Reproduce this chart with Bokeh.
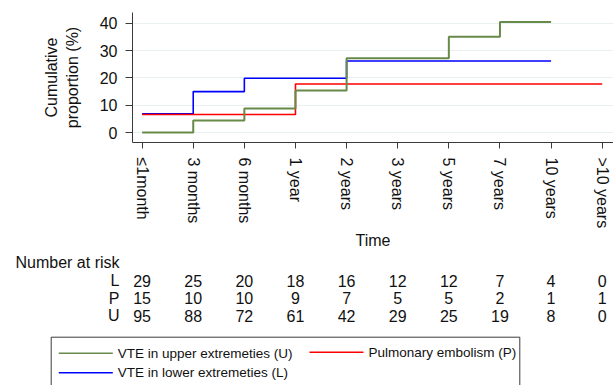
import math
from bokeh.plotting import figure
from bokeh.layouts import column
from bokeh.models import Range1d, FixedTicker
from bokeh.core.properties import value
from bokeh.embed import file_html
from bokeh.resources import INLINE

# ---- data ----
time_labels = ["\u22641month", "3 months", "6 months", "1 year", "2 years",
               "3 years", "5 years", "7 years", "10 years", ">10 years"]
x_idx_U = [0, 1, 2, 3, 4, 5, 6, 7, 8]
cum_U = [0.0, 4.4, 8.8, 15.4, 27.2, 27.2, 35.1, 40.5, 40.5]
x_idx_L = [0, 1, 2, 3, 4, 5, 6, 7, 8]
cum_L = [6.9, 15.0, 19.9, 19.9, 26.2, 26.2, 26.2, 26.2, 26.2]
x_idx_P = [0, 1, 2, 3, 4, 5, 6, 7, 8, 9]
cum_P = [6.6, 6.6, 6.6, 17.8, 17.8, 17.8, 17.8, 17.8, 17.8, 17.8]
y_ticks = [0, 10, 20, 30, 40]

risk_groups = ["L", "P", "U"]
risk_L = [29, 25, 20, 18, 16, 12, 12, 7, 4, 0]
risk_P = [15, 10, 10, 9, 7, 5, 5, 2, 1, 1]
risk_U = [95, 88, 72, 61, 42, 29, 25, 19, 8, 0]

legend_labels = ["VTE in upper extremeties (U)", "Pulmonary embolism (P)",
                 "VTE in lower extremeties (L)"]

COL_U = "#678A48"
COL_L = "#0000FF"
COL_P = "#FF0000"
FONT = "Liberation Sans"
AX = "#3a3a3a"

# ---- main chart ----
W = 613
H1 = 252
p = figure(width=W, height=H1, x_range=Range1d(-0.188, 9.221),
           y_range=Range1d(-3.66, 44.0), output_backend="svg",
           toolbar_location=None, min_border_left=132, min_border_right=0,
           min_border_top=12, min_border_bottom=H1 - 143)
p.frame_align = False
p.outline_line_color = None
p.xgrid.visible = False
p.ygrid.grid_line_color = "#E9F0F1"
p.ygrid.grid_line_width = 1.2

p.step(x_idx_L, cum_L, mode="after", line_color=COL_L, line_width=1.6)
p.step(x_idx_P, cum_P, mode="after", line_color=COL_P, line_width=1.6)
p.step(x_idx_U, cum_U, mode="after", line_color=COL_U, line_width=2)

p.yaxis.ticker = FixedTicker(ticks=y_ticks)
p.yaxis.minor_tick_line_color = None
p.yaxis.major_tick_out = 7
p.yaxis.major_tick_in = 0
p.yaxis.major_label_standoff = 8
p.yaxis.axis_label = "Cumulative\nproportion (%)"
p.yaxis.axis_label_standoff = 16
p.yaxis.axis_label_text_font_style = "normal"

p.xaxis.ticker = FixedTicker(ticks=list(range(len(time_labels))))
p.xaxis.major_label_overrides = {i: t for i, t in enumerate(time_labels)}
p.xaxis.major_label_orientation = -math.pi / 2
p.xaxis.minor_tick_line_color = None
p.xaxis.major_tick_out = 6
p.xaxis.major_tick_in = 0
p.xaxis.major_label_standoff = 9
p.xaxis.axis_label = "Time"
p.xaxis.axis_label_standoff = 1
p.xaxis.axis_label_text_font_style = "normal"

for ax in (p.xaxis, p.yaxis):
    ax.axis_line_color = AX
    ax.major_tick_line_color = AX
    ax.major_label_text_font = FONT
    ax.major_label_text_font_size = "16px"
    ax.major_label_text_color = "#111111"
    ax.axis_label_text_font = FONT
    ax.axis_label_text_font_size = "16px"
    ax.axis_label_text_color = "#111111"

# ---- number at risk + legend ----
H2 = 385 - H1
x0px, dx = 141.6, 51.12


def px2x(px):
    return (px - x0px) / dx


q = figure(width=W, height=H2, x_range=Range1d(px2x(0), px2x(W)),
           y_range=Range1d(385, H1), output_backend="svg",
           toolbar_location=None, min_border=0, min_border_left=0,
           min_border_right=0, min_border_top=0, min_border_bottom=0,
           x_axis_location=None, y_axis_location=None)
q.frame_align = False
q.outline_line_color = None
q.grid.visible = False

tf = value(FONT)
q.text(x=[px2x(15)], y=[262], text=["Number at risk"], text_font=tf,
       text_font_size="16px", text_align="left", text_baseline="middle",
       text_color="#111111")
row_y = [280, 297.7, 315]
for g, vals, ry in zip(risk_groups, [risk_L, risk_P, risk_U], row_y):
    q.text(x=[px2x(119)], y=[ry], text=[g], text_font=tf,
           text_font_size="16px", text_align="right", text_baseline="middle",
           text_color="#111111")
    q.text(x=list(range(len(vals))), y=[ry] * len(vals),
           text=[str(v) for v in vals], text_font=tf, text_font_size="16px",
           text_align="center", text_baseline="middle", text_color="#111111")

q.quad(left=[px2x(50.7)], right=[px2x(519.3)], top=[336.7], bottom=[392],
       fill_color=None, line_color=AX, line_width=1)
leg_cols = [COL_U, COL_P, COL_L]
leg_x0 = [58.3, 309, 58.3]
leg_y = [352.7, 351.7, 372.3]
for lab, c, lx, ly in zip(legend_labels, leg_cols, leg_x0, leg_y):
    q.segment(x0=[px2x(lx)], y0=[ly], x1=[px2x(lx + 54)], y1=[ly],
              line_color=c, line_width=1.6)
    q.text(x=[px2x(lx + 59)], y=[ly], text=[lab], text_font=tf,
           text_font_size="13.5px", text_align="left", text_baseline="middle",
           text_color="#111111")

layout = column(p, q, spacing=0)
open("out.html", "w").write(file_html(layout, INLINE))
